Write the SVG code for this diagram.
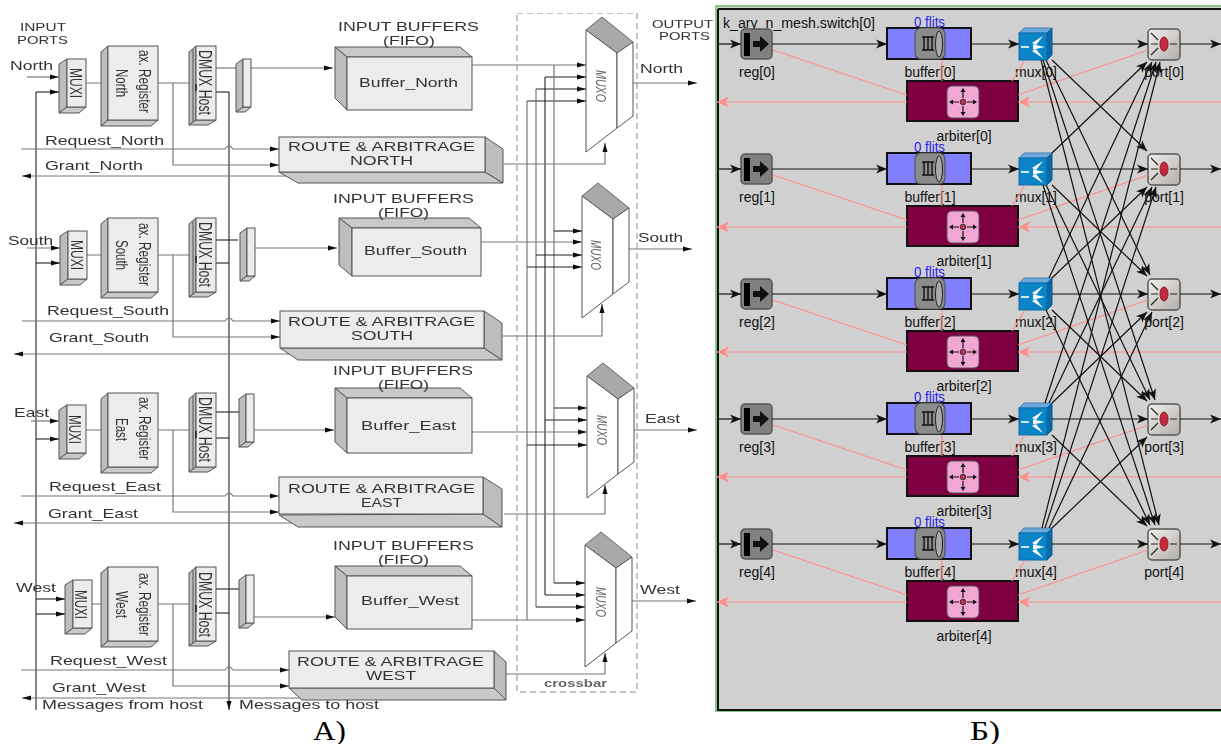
<svg xmlns="http://www.w3.org/2000/svg" width="1221" height="744" viewBox="0 0 1221 744">
<style>
text{font-family:"Liberation Sans",Arial,sans-serif;fill:#333}
.m{font-size:13px}.s{font-size:11px}
.mi{font-size:17px}.rg{font-size:16px}.dx{font-size:18px}
.mo{font-size:15px;font-style:italic;fill:#666}
.f{fill:#ececec;stroke:#555;stroke-width:1}
.d{fill:#bdbdbd;stroke:#555;stroke-width:1}
.b{fill:#c9c9c9;stroke:#555;stroke-width:1}
.w{fill:#fff;stroke:#555;stroke-width:1}
.l{fill:none;stroke:#777;stroke-width:1.2}
.k{fill:none;stroke:#222;stroke-width:1.1}
.ka{marker-end:url(#a)}
.rl{font-size:14px;fill:#111}
.fl{font-size:14px;fill:#2222ee}
.bk{fill:none;stroke:#111;stroke-width:1.2;marker-end:url(#b)}
.pk{fill:none;stroke:#ff8c8c;stroke-width:1.2}
.pa{marker-end:url(#p)}
.ps{font-family:"Liberation Serif","Times New Roman",serif;font-size:27px;fill:#000}
</style>
<defs>
<filter id="soft" x="0" y="0" width="100%" height="100%"><feGaussianBlur stdDeviation="0.35"/></filter>
<marker id="a" markerUnits="userSpaceOnUse" markerWidth="10" markerHeight="6" refX="9" refY="3" orient="auto"><path d="M0,0.5L9,3L0,5.5z" fill="#111"/></marker>
<marker id="b" markerUnits="userSpaceOnUse" markerWidth="12" markerHeight="10" refX="11" refY="5" orient="auto"><path d="M0,0.5L11,5L0,9.5L3,5z" fill="#111"/></marker>
<marker id="p" markerUnits="userSpaceOnUse" markerWidth="13" markerHeight="12" refX="12" refY="6" orient="auto"><path d="M0,0.5L12,6L0,11.5L3.5,6z" fill="#ff8c8c"/></marker>
<linearGradient id="gp" x1="0" y1="0" x2="1" y2="1"><stop offset="0" stop-color="#f2f0ee"/><stop offset="1" stop-color="#b0aca8"/></linearGradient>
<g id="muxi"><polygon class="d" points="59,64 67,59 67,107 59,113"/><polygon class="b" points="59,113 67,107 86,107 79,113"/><rect class="f" x="67" y="59" width="19" height="48"/></g>
<g id="regb"><polygon class="d" points="101,52 108,46 108,120 101,126"/><polygon class="b" points="101,126 108,120 158,120 151,126"/><rect class="f" x="108" y="46" width="50" height="74"/></g>
<g id="dmux"><polygon class="d" points="189,52 196,46 196,120 189,125"/><polygon class="b" points="189,125 196,120 216,120 208,125"/><rect class="f" x="196" y="46" width="20" height="74"/><path d="M193,49V122" stroke="#555" fill="none"/><path d="M196,84V91" stroke="#222" stroke-width="1.5" fill="none"/></g>
<g id="smal"><polygon class="d" points="236,64 243,59 243,107 236,112"/><polygon class="b" points="236,112 243,107 251,107 245,112"/><rect class="f" x="243" y="59" width="8" height="48"/></g>
<g id="muxo"><polygon points="586,30 602,17 633,42 617,53" fill="#a9a9a9" stroke="#666"/><polygon class="w" points="586,30 617,53 617,128 586,152"/><polygon class="w" points="617,53 633,42 633,116 617,128"/></g>
<g id="i-reg"><rect x="741" y="29" width="31" height="30" rx="4" fill="#808080" stroke="#555" stroke-width="1.5"/><rect x="744" y="33" width="6" height="23" fill="#000"/><path d="M753,41H760V36L769,44L760,52V47H753z" fill="#111"/></g>
<g id="i-buf"><rect x="887" y="28" width="84" height="31" fill="#8080ff" stroke="#111" stroke-width="2"/><rect x="915" y="28" width="30" height="31" rx="6" fill="#8b8b8b" stroke="#555" stroke-width="1.2"/><path d="M922,37H934M922,50H934M924,37V50M928,37V50M932,37V50" stroke="#111" stroke-width="1.4" fill="none"/><ellipse cx="939" cy="44" rx="3.5" ry="13" fill="#aaa" stroke="#222"/></g>
<g id="i-arb"><rect x="907" y="81" width="111" height="40" fill="#7f0040" stroke="#111" stroke-width="2"/><rect x="947" y="86" width="32" height="32" rx="5" fill="#f2a6d4" stroke="#555"/><circle cx="963" cy="102" r="2.8" fill="#c03060" stroke="#333"/><path d="M963,90V98M963,106V114M951,102H959M967,102H975" stroke="#111" stroke-width="1.2" fill="none"/><path d="M963,88l-2.5,4h5zM963,116l-2.5,-4h5zM949,102l4,-2.5v5zM977,102l-4,-2.5v5z" fill="#111"/></g>
<g id="i-mux"><polygon points="1019,33 1024,28 1052,28 1047,33" fill="#6aa8de" stroke="#4a7fae"/><polygon points="1047,33 1052,28 1052,55 1047,60" fill="#0a6aa6" stroke="#0a5a90"/><rect x="1019" y="33" width="28" height="27" fill="#0a86c8" stroke="#0a6aa6"/><path d="M1021,47H1029" stroke="#fff" stroke-width="1.6" fill="none"/><path d="M1043,36L1032,43L1036,45zM1045,47L1033,44.5V49.500zM1043,58L1032,51L1036,49z" fill="#fff"/></g>
<g id="i-port"><rect x="1148" y="29" width="32" height="31" rx="4" fill="url(#gp)" stroke="#555" stroke-width="1.5"/><ellipse cx="1164" cy="44" rx="4" ry="7" fill="#c8283c" stroke="#802030"/><path d="M1151,33L1158,40M1151,44H1158M1151,55L1158,48M1170,44H1177" stroke="#222" stroke-width="1.1" fill="none"/></g>
</defs>
<rect width="1221" height="744" fill="#fff"/>
<g id="panel-a" filter="url(#soft)">
<g id="crossbar"><rect x="517" y="13" width="120" height="679" fill="none" stroke="#888" stroke-dasharray="6 4"/><text x="544" y="687" font-weight="bold" class="s" style="fill:#666" textLength="63" lengthAdjust="spacingAndGlyphs">crossbar</text></g>
<g id="connectors-a">
<path class="k" d="M36,92V710"/><path class="k ka" d="M229,92V710"/>
<path class="l ka" d="M27,77H59"/><path class="k ka" d="M36,92H59"/>
<path class="l" d="M86,83H101M158,83H189"/><path class="l ka" d="M173,83V165H279"/>
<path class="l" d="M216,68H236"/><path class="l ka" d="M251,68H333"/><path class="k" d="M216,92H229"/>
<path class="l ka" d="M21,149H225q4,-6 8,0H279"/><path class="l ka" d="M298,176H22"/>
<path class="l ka" d="M27,248H60"/><path class="k ka" d="M36,263H60"/>
<path class="l" d="M87,255H101M158,255H189"/><path class="l ka" d="M173,255V337H280"/>
<path class="k" d="M216,240H238"/><path class="l ka" d="M255,248H337"/><path class="k" d="M216,263H229"/>
<path class="l ka" d="M22,321H225q4,-6 8,0H280"/><path class="l ka" d="M290,354H14"/>
<path class="l ka" d="M31,421H59"/><path class="k ka" d="M36,439H59"/>
<path class="l" d="M86,430H101M158,430H189"/><path class="l ka" d="M173,430V512H279"/>
<path class="k" d="M216,412H239"/><path class="l ka" d="M254,430H334"/><path class="k" d="M216,438H229"/>
<path class="l ka" d="M21,496H225q4,-6 8,0H279"/><path class="l ka" d="M292,523H14"/>
<path class="k ka" d="M36,599H65"/><path class="k ka" d="M36,614H65"/>
<path class="l" d="M92,604H101M158,604H189"/><path class="l ka" d="M173,604V686H289"/>
<path class="k" d="M216,589H239"/><path class="l ka" d="M254,617H335"/><path class="k" d="M216,613H229"/>
<path class="l ka" d="M21,670H225q4,-6 8,0H289"/><path class="l ka" d="M305,698H22"/>
<path class="l ka" d="M472,65H586"/><path class="k ka" d="M545,77H586"/><path class="k ka" d="M536,89H586"/><path class="k ka" d="M527,101H586"/>
<path class="l" d="M554,65V583"/><path class="k" d="M545,77V595"/><path class="l" d="M536,89V607"/><path class="l" d="M527,101V620"/>
<path class="k ka" d="M554,231H582"/><path class="l ka" d="M481,242H582"/><path class="k ka" d="M536,255H582"/><path class="k ka" d="M527,267H582"/>
<path class="k ka" d="M554,408H587"/><path class="k ka" d="M545,420H587"/><path class="l ka" d="M472,432H587"/><path class="k ka" d="M527,445H587"/>
<path class="k ka" d="M554,583H585"/><path class="k ka" d="M545,595H585"/><path class="k ka" d="M536,607H585"/><path class="l ka" d="M472,620H585"/>
<path class="l ka" d="M504,164H605V143"/><path class="l ka" d="M503,336H602V304"/><path class="l ka" d="M504,514H605V485"/><path class="l ka" d="M506,674H605V653"/>
<path class="l ka" d="M633,83H697"/><path class="l ka" d="M628,249H692"/><path class="l ka" d="M632,430H697"/><path class="l ka" d="M632,601H696"/>
</g>
<g id="muxi-north"><use href="#muxi"/><text class="mi" transform="rotate(90 70 68)" x="70" y="68" textLength="30" lengthAdjust="spacingAndGlyphs">MUXI</text></g>
<g id="muxi-south"><use href="#muxi" x="1" y="172"/><text class="mi" transform="rotate(90 71 240)" x="71" y="240" textLength="30" lengthAdjust="spacingAndGlyphs">MUXI</text></g>
<g id="muxi-east"><use href="#muxi" y="346"/><text class="mi" transform="rotate(90 69 415)" x="69" y="415" textLength="29" lengthAdjust="spacingAndGlyphs">MUXI</text></g>
<g id="muxi-west"><use href="#muxi" x="6" y="521"/><text class="mi" transform="rotate(90 75 590)" x="75" y="590" textLength="29" lengthAdjust="spacingAndGlyphs">MUXI</text></g>
<g id="register-north"><use href="#regb"/><text class="rg" transform="rotate(90 139 50)" x="139" y="50" textLength="63" lengthAdjust="spacingAndGlyphs">ax. Register</text><text class="rg" transform="rotate(90 116 69)" x="116" y="69" textLength="28" lengthAdjust="spacingAndGlyphs">North</text></g>
<g id="register-south"><use href="#regb" y="172"/><text class="rg" transform="rotate(90 139 223)" x="139" y="223" textLength="63" lengthAdjust="spacingAndGlyphs">ax. Register</text><text class="rg" transform="rotate(90 116 240)" x="116" y="240" textLength="30" lengthAdjust="spacingAndGlyphs">South</text></g>
<g id="register-east"><use href="#regb" y="347"/><text class="rg" transform="rotate(90 139 397)" x="139" y="397" textLength="63" lengthAdjust="spacingAndGlyphs">ax. Register</text><text class="rg" transform="rotate(90 116 418)" x="116" y="418" textLength="23" lengthAdjust="spacingAndGlyphs">East</text></g>
<g id="register-west"><use href="#regb" y="521"/><text class="rg" transform="rotate(90 139 573)" x="139" y="573" textLength="63" lengthAdjust="spacingAndGlyphs">ax. Register</text><text class="rg" transform="rotate(90 116 591)" x="116" y="591" textLength="27" lengthAdjust="spacingAndGlyphs">West</text></g>
<g id="dmux-north"><use href="#dmux"/><text class="dx" transform="rotate(90 199 50)" x="199" y="50" textLength="65" lengthAdjust="spacingAndGlyphs">DMUX Host</text></g>
<g id="dmux-south"><use href="#dmux" y="172"/><text class="dx" transform="rotate(90 199 222)" x="199" y="222" textLength="65" lengthAdjust="spacingAndGlyphs">DMUX Host</text></g>
<g id="dmux-east"><use href="#dmux" y="347"/><text class="dx" transform="rotate(90 199 397)" x="199" y="397" textLength="65" lengthAdjust="spacingAndGlyphs">DMUX Host</text></g>
<g id="dmux-west"><use href="#dmux" y="521"/><text class="dx" transform="rotate(90 199 572)" x="199" y="572" textLength="65" lengthAdjust="spacingAndGlyphs">DMUX Host</text></g>
<g id="demux-north"><use href="#smal"/></g>
<g id="demux-south"><use href="#smal" x="4" y="169"/></g>
<g id="demux-east"><use href="#smal" x="3" y="335"/></g>
<g id="demux-west"><use href="#smal" x="3" y="516"/></g>
<g id="buffer-north"><polygon class="b" points="335,47 460,47 472,57 347,57"/><polygon class="d" points="335,47 347,57 347,110 335,98"/><rect class="f" x="347" y="57" width="125" height="53"/><text class="m" x="359" y="87" textLength="99" lengthAdjust="spacingAndGlyphs">Buffer_North</text></g>
<g id="buffer-south"><polygon class="b" points="339,218 469,218 481,228 352,228"/><polygon class="d" points="339,218 352,228 352,276 339,265"/><rect class="f" x="352" y="228" width="129" height="48"/><text class="m" x="364" y="255" textLength="103" lengthAdjust="spacingAndGlyphs">Buffer_South</text></g>
<g id="buffer-east"><polygon class="b" points="335,388 460,388 472,398 347,398"/><polygon class="d" points="335,388 347,398 347,453 335,442"/><rect class="f" x="347" y="398" width="125" height="55"/><text class="m" x="361" y="430" textLength="95" lengthAdjust="spacingAndGlyphs">Buffer_East</text></g>
<g id="buffer-west"><polygon class="b" points="335,566 460,566 472,576 347,576"/><polygon class="d" points="335,566 347,576 347,629 335,617"/><rect class="f" x="347" y="576" width="125" height="53"/><text class="m" x="361" y="605" textLength="98" lengthAdjust="spacingAndGlyphs">Buffer_West</text></g>
<g id="route-north"><polygon class="b" points="279,172 485,172 503,183 298,183"/><polygon class="d" points="485,137 503,149 503,183 485,172"/><rect class="f" x="279" y="137" width="206" height="35"/><text class="m" x="288" y="151" textLength="187" lengthAdjust="spacingAndGlyphs">ROUTE &amp; ARBITRAGE</text><text class="m" x="350" y="165" textLength="63" lengthAdjust="spacingAndGlyphs">NORTH</text></g>
<g id="route-south"><polygon class="b" points="280,348 484,348 502,360 298,360"/><polygon class="d" points="484,311 502,323 502,360 484,348"/><rect class="f" x="280" y="311" width="204" height="37"/><text class="m" x="288" y="326" textLength="187" lengthAdjust="spacingAndGlyphs">ROUTE &amp; ARBITRAGE</text><text class="m" x="351" y="340" textLength="62" lengthAdjust="spacingAndGlyphs">SOUTH</text></g>
<g id="route-east"><polygon class="b" points="279,515 483,514 502,527 298,527"/><polygon class="d" points="483,477 502,489 502,527 483,514"/><rect class="f" x="279" y="477" width="204" height="37"/><text class="m" x="288" y="493" textLength="187" lengthAdjust="spacingAndGlyphs">ROUTE &amp; ARBITRAGE</text><text class="m" x="361" y="507" textLength="41" lengthAdjust="spacingAndGlyphs">EAST</text></g>
<g id="route-west"><polygon class="b" points="289,688 494,688 506,700 302,700"/><polygon class="d" points="494,651 506,662 506,700 494,688"/><rect class="f" x="289" y="651" width="205" height="37"/><text class="m" x="297" y="666" textLength="187" lengthAdjust="spacingAndGlyphs">ROUTE &amp; ARBITRAGE</text><text class="m" x="366" y="680" textLength="50" lengthAdjust="spacingAndGlyphs">WEST</text></g>
<g id="muxo-north"><use href="#muxo"/><text class="mo" transform="rotate(90 596 70)" x="596" y="70" textLength="32" lengthAdjust="spacingAndGlyphs">MUXO</text></g>
<g id="muxo-south"><use href="#muxo" x="-4" y="166"/><text class="mo" transform="rotate(90 591 240)" x="591" y="240" textLength="30" lengthAdjust="spacingAndGlyphs">MUXO</text></g>
<g id="muxo-east"><use href="#muxo" x="1" y="346"/><text class="mo" transform="rotate(90 597 415)" x="597" y="415" textLength="30" lengthAdjust="spacingAndGlyphs">MUXO</text></g>
<g id="muxo-west"><use href="#muxo" x="-1" y="515"/><text class="mo" transform="rotate(90 596 587)" x="596" y="587" textLength="30" lengthAdjust="spacingAndGlyphs">MUXO</text></g>
<g id="labels-a">
<text class="s" x="20" y="31" textLength="46" lengthAdjust="spacingAndGlyphs">INPUT</text>
<text class="s" x="17" y="44" textLength="51" lengthAdjust="spacingAndGlyphs">PORTS</text>
<text class="s" x="652" y="28" textLength="61" lengthAdjust="spacingAndGlyphs">OUTPUT</text>
<text class="s" x="659" y="40" textLength="51" lengthAdjust="spacingAndGlyphs">PORTS</text>
<text class="m" x="10" y="70" textLength="43" lengthAdjust="spacingAndGlyphs">North</text>
<text class="m" x="45" y="145" textLength="119" lengthAdjust="spacingAndGlyphs">Request_North</text>
<text class="m" x="45" y="170" textLength="98" lengthAdjust="spacingAndGlyphs">Grant_North</text>
<text class="m" x="8" y="245" textLength="45" lengthAdjust="spacingAndGlyphs">South</text>
<text class="m" x="47" y="315" textLength="122" lengthAdjust="spacingAndGlyphs">Request_South</text>
<text class="m" x="49" y="342" textLength="100" lengthAdjust="spacingAndGlyphs">Grant_South</text>
<text class="m" x="14" y="417" textLength="35" lengthAdjust="spacingAndGlyphs">East</text>
<text class="m" x="49" y="491" textLength="112" lengthAdjust="spacingAndGlyphs">Request_East</text>
<text class="m" x="48" y="518" textLength="90" lengthAdjust="spacingAndGlyphs">Grant_East</text>
<text class="m" x="16" y="592" textLength="40" lengthAdjust="spacingAndGlyphs">West</text>
<text class="m" x="50" y="665" textLength="117" lengthAdjust="spacingAndGlyphs">Request_West</text>
<text class="m" x="52" y="692" textLength="94" lengthAdjust="spacingAndGlyphs">Grant_West</text>
<text class="m" x="42" y="709" textLength="161" lengthAdjust="spacingAndGlyphs">Messages from host</text>
<text class="m" x="239" y="709" textLength="140" lengthAdjust="spacingAndGlyphs">Messages to host</text>
<text class="m" x="338" y="31" textLength="141" lengthAdjust="spacingAndGlyphs">INPUT BUFFERS</text>
<text class="m" x="383" y="45" textLength="52" lengthAdjust="spacingAndGlyphs">(FIFO)</text>
<text class="m" x="333" y="203" textLength="141" lengthAdjust="spacingAndGlyphs">INPUT BUFFERS</text>
<text class="m" x="378" y="217" textLength="51" lengthAdjust="spacingAndGlyphs">(FIFO)</text>
<text class="m" x="333" y="375" textLength="140" lengthAdjust="spacingAndGlyphs">INPUT BUFFERS</text>
<text class="m" x="378" y="389" textLength="51" lengthAdjust="spacingAndGlyphs">(FIFO)</text>
<text class="m" x="333" y="550" textLength="141" lengthAdjust="spacingAndGlyphs">INPUT BUFFERS</text>
<text class="m" x="378" y="564" textLength="51" lengthAdjust="spacingAndGlyphs">(FIFO)</text>
<text class="m" x="640" y="73" textLength="43" lengthAdjust="spacingAndGlyphs">North</text>
<text class="m" x="638" y="242" textLength="45" lengthAdjust="spacingAndGlyphs">South</text>
<text class="m" x="645" y="423" textLength="35" lengthAdjust="spacingAndGlyphs">East</text>
<text class="m" x="640" y="594" textLength="40" lengthAdjust="spacingAndGlyphs">West</text>
</g>
</g>
<g id="panel-b">
<rect x="716" y="6" width="510" height="705" fill="#d0d0d0" stroke="#86c686" stroke-width="2"/>
<path d="M718,9H1221M718,9V710H1221" fill="none" stroke="#111" stroke-width="2"/>
<text class="rl" x="723" y="28" textLength="152" lengthAdjust="spacingAndGlyphs">k_ary_n_mesh.switch[0]</text>
<g id="reg0"><text class="rl" x="757" y="77" text-anchor="middle">reg[0]</text><use href="#i-reg"/></g>
<g id="reg1"><text class="rl" x="757" y="202" text-anchor="middle">reg[1]</text><use href="#i-reg" y="125"/></g>
<g id="reg2"><text class="rl" x="757" y="327" text-anchor="middle">reg[2]</text><use href="#i-reg" y="250"/></g>
<g id="reg3"><text class="rl" x="757" y="452" text-anchor="middle">reg[3]</text><use href="#i-reg" y="375"/></g>
<g id="reg4"><text class="rl" x="757" y="577" text-anchor="middle">reg[4]</text><use href="#i-reg" y="500"/></g>
<g id="buffer0"><use href="#i-buf"/><text class="fl" x="914" y="27" textLength="31" lengthAdjust="spacingAndGlyphs">0 flits</text><text class="rl" x="930" y="77" text-anchor="middle">buffer[0]</text></g>
<g id="buffer1"><use href="#i-buf" y="125"/><text class="fl" x="914" y="152" textLength="31" lengthAdjust="spacingAndGlyphs">0 flits</text><text class="rl" x="930" y="202" text-anchor="middle">buffer[1]</text></g>
<g id="buffer2"><use href="#i-buf" y="250"/><text class="fl" x="914" y="277" textLength="31" lengthAdjust="spacingAndGlyphs">0 flits</text><text class="rl" x="930" y="327" text-anchor="middle">buffer[2]</text></g>
<g id="buffer3"><use href="#i-buf" y="375"/><text class="fl" x="914" y="402" textLength="31" lengthAdjust="spacingAndGlyphs">0 flits</text><text class="rl" x="930" y="452" text-anchor="middle">buffer[3]</text></g>
<g id="buffer4"><use href="#i-buf" y="500"/><text class="fl" x="914" y="527" textLength="31" lengthAdjust="spacingAndGlyphs">0 flits</text><text class="rl" x="930" y="577" text-anchor="middle">buffer[4]</text></g>
<g id="arbiter0"><use href="#i-arb"/><text class="rl" x="964" y="141" text-anchor="middle">arbiter[0]</text></g>
<g id="arbiter1"><use href="#i-arb" y="125"/><text class="rl" x="964" y="266" text-anchor="middle">arbiter[1]</text></g>
<g id="arbiter2"><use href="#i-arb" y="250"/><text class="rl" x="964" y="391" text-anchor="middle">arbiter[2]</text></g>
<g id="arbiter3"><use href="#i-arb" y="375"/><text class="rl" x="964" y="516" text-anchor="middle">arbiter[3]</text></g>
<g id="arbiter4"><use href="#i-arb" y="500"/><text class="rl" x="964" y="641" text-anchor="middle">arbiter[4]</text></g>
<g id="mux0"><text class="rl" x="1036" y="77" text-anchor="middle">mux[0]</text><use href="#i-mux"/></g>
<g id="mux1"><text class="rl" x="1036" y="202" text-anchor="middle">mux[1]</text><use href="#i-mux" y="125"/></g>
<g id="mux2"><text class="rl" x="1036" y="327" text-anchor="middle">mux[2]</text><use href="#i-mux" y="250"/></g>
<g id="mux3"><text class="rl" x="1036" y="452" text-anchor="middle">mux[3]</text><use href="#i-mux" y="375"/></g>
<g id="mux4"><text class="rl" x="1036" y="577" text-anchor="middle">mux[4]</text><use href="#i-mux" y="500"/></g>
<g id="port0"><text class="rl" x="1164" y="77" text-anchor="middle">port[0]</text><use href="#i-port"/></g>
<g id="port1"><text class="rl" x="1164" y="202" text-anchor="middle">port[1]</text><use href="#i-port" y="125"/></g>
<g id="port2"><text class="rl" x="1164" y="327" text-anchor="middle">port[2]</text><use href="#i-port" y="250"/></g>
<g id="port3"><text class="rl" x="1164" y="452" text-anchor="middle">port[3]</text><use href="#i-port" y="375"/></g>
<g id="port4"><text class="rl" x="1164" y="577" text-anchor="middle">port[4]</text><use href="#i-port" y="500"/></g>
<g id="connectors-b">
<g id="row-lines">
<path class="bk" d="M718,44H741"/><path class="bk" d="M772,44H887"/><path class="bk" d="M971,44H1019"/><path class="bk" d="M1052,44H1148"/><path class="bk" d="M1180,44H1221"/>
<path class="bk" d="M718,169H741"/><path class="bk" d="M772,169H887"/><path class="bk" d="M971,169H1019"/><path class="bk" d="M1052,169H1148"/><path class="bk" d="M1180,169H1221"/>
<path class="bk" d="M718,294H741"/><path class="bk" d="M772,294H887"/><path class="bk" d="M971,294H1019"/><path class="bk" d="M1052,294H1148"/><path class="bk" d="M1180,294H1221"/>
<path class="bk" d="M718,419H741"/><path class="bk" d="M772,419H887"/><path class="bk" d="M971,419H1019"/><path class="bk" d="M1052,419H1148"/><path class="bk" d="M1180,419H1221"/>
<path class="bk" d="M718,544H741"/><path class="bk" d="M772,544H887"/><path class="bk" d="M971,544H1019"/><path class="bk" d="M1052,544H1148"/><path class="bk" d="M1180,544H1221"/>
</g>
<g id="pink-lines">
<path class="pk" d="M773,50L907,95M942,60V81M1025,60L1012,81M1148,50L1018,95"/><path class="pk pa" d="M907,102H717"/><path class="pk pa" d="M1221,102H1018"/>
<path class="pk" d="M773,175L907,220M942,185V206M1025,185L1012,206M1148,175L1018,220"/><path class="pk pa" d="M907,227H717"/><path class="pk pa" d="M1221,227H1018"/>
<path class="pk" d="M773,300L907,345M942,310V331M1025,310L1012,331M1148,300L1018,345"/><path class="pk pa" d="M907,352H717"/><path class="pk pa" d="M1221,352H1018"/>
<path class="pk" d="M773,425L907,470M942,435V456M1025,435L1012,456M1148,425L1018,470"/><path class="pk pa" d="M907,477H717"/><path class="pk pa" d="M1221,477H1018"/>
<path class="pk" d="M773,550L907,595M942,560V581M1025,560L1012,581M1148,550L1018,595"/><path class="pk pa" d="M907,602H717"/><path class="pk pa" d="M1221,602H1018"/>
</g>
<g id="cross-lines">
<path class="bk" d="M1052,60L1147,151"/><path class="bk" d="M1046,60L1150,275"/><path class="bk" d="M1043,60L1155,400"/><path class="bk" d="M1041,60L1159,525"/>
<path class="bk" d="M1052,185L1147,276"/><path class="bk" d="M1046,185L1150,400"/><path class="bk" d="M1043,185L1155,525"/>
<path class="bk" d="M1052,310L1147,401"/><path class="bk" d="M1046,310L1150,525"/><path class="bk" d="M1052,435L1147,526"/>
<path class="bk" d="M1052,153L1147,62"/><path class="bk" d="M1049,278L1152,62"/><path class="bk" d="M1045,403L1156,62"/><path class="bk" d="M1042,528L1160,62"/>
<path class="bk" d="M1052,278L1147,187"/><path class="bk" d="M1049,403L1152,187"/><path class="bk" d="M1045,528L1156,187"/>
<path class="bk" d="M1052,403L1147,312"/><path class="bk" d="M1049,528L1152,312"/><path class="bk" d="M1052,528L1147,437"/>
</g>
</g>
</g>
<text class="ps" x="313" y="740" textLength="33" lengthAdjust="spacingAndGlyphs">A)</text>
<text class="ps" x="970" y="740" textLength="30" lengthAdjust="spacingAndGlyphs">Б)</text>
</svg>
